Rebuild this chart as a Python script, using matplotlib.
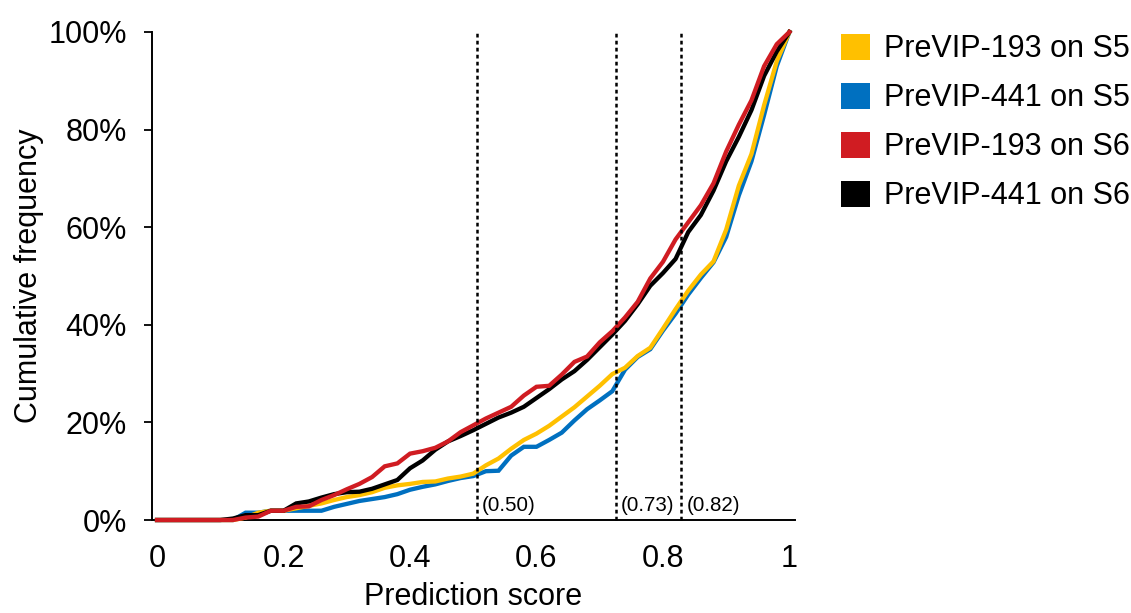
import numpy as np
import matplotlib
matplotlib.use("Agg")
from matplotlib import pyplot as plt
from matplotlib.patches import Patch
from matplotlib.ticker import FuncFormatter

plt.rcParams['font.family'] = ['Liberation Sans', 'DejaVu Sans']

# prediction score bins (0.02 steps)
score = np.round(np.arange(0, 1.0001, 0.02), 2)

# cumulative frequency (%)
s5_193 = [0, 0, 0, 0, 0, 0, 0, 0.5, 1.5, 1.9, 1.9, 2.4, 2.9, 3.4, 4.1, 4.7, 5.1, 5.7, 6.6, 7.1,
          7.4, 7.8, 7.9, 8.5, 8.9, 9.5, 11.2, 12.6, 14.6, 16.4, 17.7, 19.3, 21.2, 23.1, 25.3, 27.5,
          29.9, 31.2, 33.6, 35.3, 39.2, 43.2, 47.0, 50.3, 53.0, 59.5, 68.5, 75.0, 85.0, 94.0, 100]
s5_441 = [0, 0, 0, 0, 0, 0, 0, 1.5, 1.5, 1.9, 1.9, 1.9, 1.9, 1.9, 2.7, 3.3, 3.9, 4.3, 4.7, 5.3,
          6.2, 6.8, 7.3, 8.0, 8.6, 9.0, 10.0, 10.1, 13.2, 15.0, 15.0, 16.4, 17.9, 20.4, 22.7, 24.5,
          26.4, 30.8, 33.4, 35.0, 38.8, 42.3, 46.2, 49.6, 52.8, 58.0, 66.5, 73.5, 83.0, 93.0, 100]
s6_193 = [0, 0, 0, 0, 0, 0, 0, 0.5, 0.7, 1.9, 1.9, 2.7, 2.8, 4.1, 5.1, 6.3, 7.4, 8.8, 11.0, 11.6,
          13.6, 14.1, 14.8, 16.1, 18.0, 19.4, 20.8, 22.0, 23.2, 25.5, 27.3, 27.5, 29.8, 32.4, 33.5, 36.4,
          38.7, 41.5, 44.7, 49.5, 52.9, 57.5, 61.0, 64.5, 69.0, 75.5, 81.0, 86.0, 93.0, 97.5, 100]
s6_441 = [0, 0, 0, 0, 0, 0, 0.3, 1.0, 1.0, 1.9, 1.9, 3.4, 3.8, 4.6, 5.3, 5.7, 5.8, 6.4, 7.3, 8.2,
          10.6, 12.2, 14.4, 16.1, 17.2, 18.4, 19.7, 21.0, 22.0, 23.2, 25.0, 26.8, 28.8, 30.5, 32.8, 35.4,
          38.0, 40.8, 44.2, 48.0, 50.6, 53.5, 59.0, 62.5, 67.5, 73.5, 78.5, 84.0, 91.0, 96.0, 100]

labels = ['PreVIP-193 on S5', 'PreVIP-441 on S5', 'PreVIP-193 on S6', 'PreVIP-441 on S6']
colors = ['#FFC000', '#0070C0', '#D01C22', '#000000']
cutoffs = [0.506, 0.726, 0.829]
cutoff_text = ['(0.50)', '(0.73)', '(0.82)']

fig = plt.figure(figsize=(11.31, 6.13), dpi=100)
ax = fig.add_axes([0.1344, 0.1517, 0.5686, 0.7961])

series = [s5_193, s5_441, s6_193, s6_441]
zorders = [3, 2, 5, 4]
for ys, c, z in zip(series, colors, zorders):
    ax.plot(score, np.array(ys) / 100, color=c, lw=3.1, zorder=z, clip_on=False,
            solid_joinstyle='miter')

for xc, t in zip(cutoffs, cutoff_text):
    ax.plot([xc, xc], [0, 1], color='black', lw=1.8, ls=(0, (1.5, 1.3)), zorder=6, clip_on=False)
    ax.text(xc + 0.008, 0.03, t, fontsize=14.8, va='center', ha='left')

ax.set_xlim(-0.008, 1.009)
ax.set_ylim(0, 1)
ax.set_xticks([0, 0.2, 0.4, 0.6, 0.8, 1])
ax.set_xticklabels(['0', '0.2', '0.4', '0.6', '0.8', '1'])
ax.set_yticks(np.arange(0, 1.01, 0.2))
ax.yaxis.set_major_formatter(FuncFormatter(lambda v, p: f'{v * 100:.0f}%'))
ax.tick_params(axis='x', length=0, pad=17, labelsize=22)
ax.tick_params(axis='y', length=6, width=1.3, direction='out', pad=12, labelsize=22)
for s in ['top', 'right']:
    ax.spines[s].set_visible(False)
for s in ['left', 'bottom']:
    ax.spines[s].set_linewidth(1.4)

ax.set_xlabel('Prediction score', fontsize=22, labelpad=6)
ax.set_ylabel('Cumulative frequency', fontsize=22, labelpad=3)

handles = [Patch(facecolor=c, edgecolor='none') for c in colors]
fig.legend(handles=handles, labels=labels, loc='upper left', bbox_to_anchor=(0.733, 0.965),
           frameon=False, fontsize=22, handlelength=0.95, handleheight=0.95,
           handletextpad=0.45, labelspacing=0.6, borderaxespad=0)

fig.savefig('out.png', dpi=100)
